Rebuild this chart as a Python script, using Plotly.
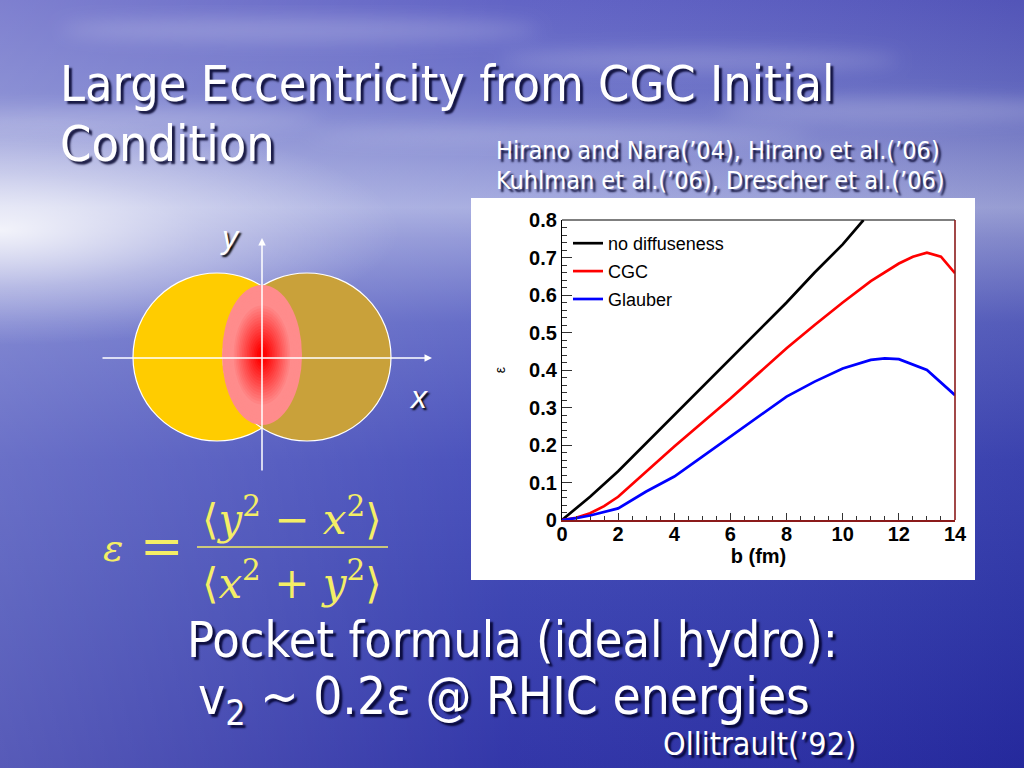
import base64
import plotly.graph_objects as go

# ---------------- data ----------------
b_nodiff = [0, 1, 2, 3, 4, 5, 6, 7, 8, 9, 10, 10.74]
eps_nodiff = [0, 0.062, 0.13, 0.205, 0.28, 0.355, 0.431, 0.505, 0.58, 0.66, 0.735, 0.8]

b_cgc = [0, 0.5, 1, 1.5, 2, 3, 4, 5, 6, 7, 8, 9, 10, 11, 12, 12.5, 13, 13.5, 14]
eps_cgc = [0, 0.006, 0.018, 0.037, 0.062, 0.129, 0.196, 0.26, 0.324, 0.391, 0.458,
           0.52, 0.58, 0.637, 0.684, 0.702, 0.713, 0.702, 0.658]

b_glauber = [0, 0.5, 1, 1.5, 2, 3, 4, 5, 6, 7, 8, 9, 10, 11, 11.5, 12, 13, 14]
eps_glauber = [0, 0.005, 0.012, 0.022, 0.031, 0.076, 0.116, 0.169, 0.222, 0.276, 0.329,
               0.369, 0.404, 0.427, 0.431, 0.429, 0.40, 0.333]

series_names = ["no diffuseness", "CGC", "Glauber"]
series_colors = ["#000000", "#ff0000", "#0000ff"]

x_ticks = [0, 2, 4, 6, 8, 10, 12, 14]
y_ticks = [0, 0.1, 0.2, 0.3, 0.4, 0.5, 0.6, 0.7, 0.8]
y_ticktext = ["0", "0.1", "0.2", "0.3", "0.4", "0.5", "0.6", "0.7", "0.8"]

title_line1 = "Large Eccentricity from CGC Initial"
title_line2 = "Condition"
refs_line1 = "Hirano and Nara(\u201904), Hirano et al.(\u201906)"
refs_line2 = "Kuhlman et al.(\u201906), Drescher et al.(\u201906)"
pocket_line1 = "Pocket formula (ideal hydro):"
pocket_line2 = "v<sub>2</sub> ~ 0.2\u03b5 @ RHIC energies"
pocket_ref = "Ollitrault(\u201992)"

W, H = 1024, 768


def px(x):
    return x / W


def py(y):
    return 1 - y / H


NARROW = "Liberation Sans Narrow, Arial Narrow, DejaVu Sans Condensed, Liberation Sans, sans-serif"
SHADOW = "3px 3px 2px rgba(0,0,40,0.85)"

fig = go.Figure()
for xs, ys, name, col in zip([b_nodiff, b_cgc, b_glauber],
                             [eps_nodiff, eps_cgc, eps_glauber],
                             series_names, series_colors):
    fig.add_trace(go.Scatter(x=xs, y=ys, mode="lines", name=name, legendgroup=name,
                             line=dict(color=col, width=2.7)))

# ---------------- background (sky + sea) ----------------
svg = f"""<svg xmlns='http://www.w3.org/2000/svg' width='{W}' height='{H}' viewBox='0 0 {W} {H}' preserveAspectRatio='none'>
<defs>
<linearGradient id='v' x1='0' y1='0' x2='0' y2='1'>
<stop offset='0' stop-color='#5a5cc2'/>
<stop offset='0.12' stop-color='#6a70c8'/>
<stop offset='0.2' stop-color='#8a90d4'/>
<stop offset='0.27' stop-color='#a4aadf'/>
<stop offset='0.31' stop-color='#8e94d6'/>
<stop offset='0.42' stop-color='#5c64c4'/>
<stop offset='0.6' stop-color='#4048b8'/>
<stop offset='0.8' stop-color='#333bae'/>
<stop offset='1' stop-color='#282ca4'/>
</linearGradient>
<linearGradient id='h' x1='0' y1='0' x2='1' y2='0'>
<stop offset='0' stop-color='#ffffff' stop-opacity='0.22'/>
<stop offset='0.5' stop-color='#ffffff' stop-opacity='0.05'/>
<stop offset='1' stop-color='#000040' stop-opacity='0.08'/>
</linearGradient>
<radialGradient id='g' cx='0' cy='0' r='1' gradientUnits='userSpaceOnUse' gradientTransform='translate(0 230) scale(400 115)'>
<stop offset='0' stop-color='#ffffff' stop-opacity='0.85'/>
<stop offset='0.5' stop-color='#ffffff' stop-opacity='0.35'/>
<stop offset='1' stop-color='#ffffff' stop-opacity='0'/>
</radialGradient>
<filter id='bl'><feGaussianBlur stdDeviation='9'/></filter>
</defs>
<rect width='{W}' height='{H}' fill='url(#v)'/>
<rect width='{W}' height='{H}' fill='url(#h)'/>
<rect width='{W}' height='{H}' fill='url(#g)'/>
<g filter='url(#bl)' fill='#ffffff' fill-opacity='0.2'>
<ellipse cx='300' cy='30' rx='240' ry='12'/>
<ellipse cx='700' cy='60' rx='200' ry='10'/>
<ellipse cx='900' cy='110' rx='180' ry='12'/>
<ellipse cx='120' cy='120' rx='200' ry='10'/>
<ellipse cx='560' cy='135' rx='250' ry='8'/>
</g>
</svg>"""
bg_src = "data:image/svg+xml;base64," + base64.b64encode(svg.encode()).decode()

shapes = []
# white chart panel
shapes.append(dict(type="rect", xref="paper", yref="paper", x0=px(471), x1=px(975),
                   y0=py(580), y1=py(198), fillcolor="white", line=dict(width=0), layer="below"))
# frame top (black) and right (dark red)
shapes.append(dict(type="line", xref="x domain", yref="y domain", x0=0, x1=1, y0=1, y1=1,
                   line=dict(color="black", width=1.2), layer="above"))
shapes.append(dict(type="line", xref="x domain", yref="y domain", x0=1, x1=1, y0=0, y1=1,
                   line=dict(color="#8b1a1a", width=1.6), layer="above"))

# ---------------- overlap diagram ----------------
R = 84
cyc = 357
for cx, col in [(217, "#ffcc00"), (307, "#c9a13a")]:
    shapes.append(dict(type="circle", xref="paper", yref="paper",
                       x0=px(cx - R), x1=px(cx + R), y0=py(cyc + R), y1=py(cyc - R),
                       fillcolor=col, line=dict(color="white", width=1.2), layer="below"))
# overlap lens with radial red gradient
ex, ey, rx, ry = 262, 355, 40, 70
N = 24
pink = (255, 140, 140)
red = (255, 0, 0)
for k in range(N):
    s = 1 - k / N
    t = max(0.0, min(1.0, (0.75 - s) / 0.65))
    c = tuple(int(pink[i] + (red[i] - pink[i]) * t) for i in range(3))
    shapes.append(dict(type="circle", xref="paper", yref="paper",
                       x0=px(ex - rx * s), x1=px(ex + rx * s),
                       y0=py(ey + ry * s), y1=py(ey - ry * s),
                       fillcolor=f"rgb{c}", line=dict(width=0), layer="below"))
# fraction bar of the formula
YEL = "#f4ee66"
shapes.append(dict(type="line", xref="paper", yref="paper", x0=px(197), x1=px(388),
                   y0=py(547), y1=py(547), line=dict(color=YEL, width=1.6)))

ann = []


def text(x, y, s, size, color="white", family=NARROW, xanchor="left", shadow=SHADOW, **kw):
    ann.append(dict(x=px(x), y=py(y), xref="paper", yref="paper", text=s, showarrow=False,
                    xanchor=xanchor, yanchor="middle",
                    font=dict(size=size, color=color, family=family, shadow=shadow, **kw)))


text(58, 84, title_line1, 50)
text(58, 144, title_line2, 50)
text(494, 150, refs_line1, 25)
text(494, 180, refs_line2, 25)
text(512, 640, pocket_line1, 50, xanchor="center")
text(504, 700, pocket_line2, 51, xanchor="center")
text(759, 744, pocket_ref, 32, xanchor="center")

# axis arrows of the diagram
ann.append(dict(x=px(432), y=py(358), xref="paper", yref="paper", ax=-331, ay=0, text="",
                showarrow=True, arrowhead=2, arrowsize=1, arrowwidth=1.5, arrowcolor="white"))
ann.append(dict(x=px(262), y=py(238), xref="paper", yref="paper", ax=0, ay=234, text="",
                showarrow=True, arrowhead=2, arrowsize=1, arrowwidth=1.5, arrowcolor="white"))
text(230, 237, "<i>y</i>", 32, family="Liberation Sans", xanchor="center", shadow="2px 2px 2px #000")
text(418, 397, "<i>x</i>", 32, family="Liberation Sans", xanchor="center", shadow="2px 2px 2px #000")

# formula
SERIF = "DejaVu Serif, Liberation Serif, serif"
text(113, 548, "<i>\u03b5</i>", 38, color=YEL, family=SERIF, xanchor="center", shadow="none")
text(162, 546, "=", 52, color=YEL, family=SERIF, xanchor="center", shadow="none")
text(292, 516, "\u27e8<i>y</i><sup>2</sup> \u2212 <i>x</i><sup>2</sup>\u27e9", 42, color=YEL,
     family=SERIF, xanchor="center", shadow="none")
text(292, 580, "\u27e8<i>x</i><sup>2</sup> + <i>y</i><sup>2</sup>\u27e9", 42, color=YEL,
     family=SERIF, xanchor="center", shadow="none")

TICKFONT = dict(family="Liberation Sans, Arial, sans-serif", size=20, color="black", weight="bold")

fig.update_layout(
    width=W, height=H,
    margin=dict(l=0, r=0, t=0, b=0, pad=0, autoexpand=False),
    paper_bgcolor="#3a42b4",
    plot_bgcolor="rgba(0,0,0,0)",
    images=[dict(source=bg_src, xref="paper", yref="paper", x=0, y=1, sizex=1, sizey=1,
                 xanchor="left", yanchor="top", sizing="stretch", layer="below")],
    shapes=shapes,
    annotations=ann,
    showlegend=True,
    legend=dict(x=px(568), y=py(225), xanchor="left", yanchor="top",
                bgcolor="rgba(0,0,0,0)", tracegroupgap=1.5, itemwidth=30,
                font=dict(family="Liberation Sans, Arial, sans-serif", size=18, color="black")),
    xaxis=dict(domain=[px(562), px(955)], range=[0, 14], tickvals=x_ticks, automargin=False,
               ticks="inside", ticklen=7, tickwidth=1, tickcolor="#333", ticklabelstandoff=-5,
               minor=dict(dtick=0.5, ticks="inside", ticklen=4, tickcolor="#333"),
               showline=True, linecolor="#8b1a1a", linewidth=1.6, mirror=False,
               showgrid=False, zeroline=False, tickfont=TICKFONT,
               title=dict(text="b (fm)", font=TICKFONT, standoff=2)),
    yaxis=dict(domain=[py(520), py(220)], range=[0, 0.8], tickvals=y_ticks, automargin=False,
               ticktext=y_ticktext,
               ticks="inside", ticklen=10, tickwidth=1, tickcolor="#333",
               minor=dict(dtick=0.02, ticks="inside", ticklen=5, tickcolor="#333"),
               showline=True, linecolor="black", linewidth=1.2, mirror=False,
               showgrid=False, zeroline=False, tickfont=TICKFONT,
               title=dict(text="\u03b5", font=dict(family="Liberation Sans", size=14, color="black"),
                          standoff=20)),
)

fig.write_html("out.html", config={"displayModeBar": False},
               post_script="document.body.style.margin='0';")
